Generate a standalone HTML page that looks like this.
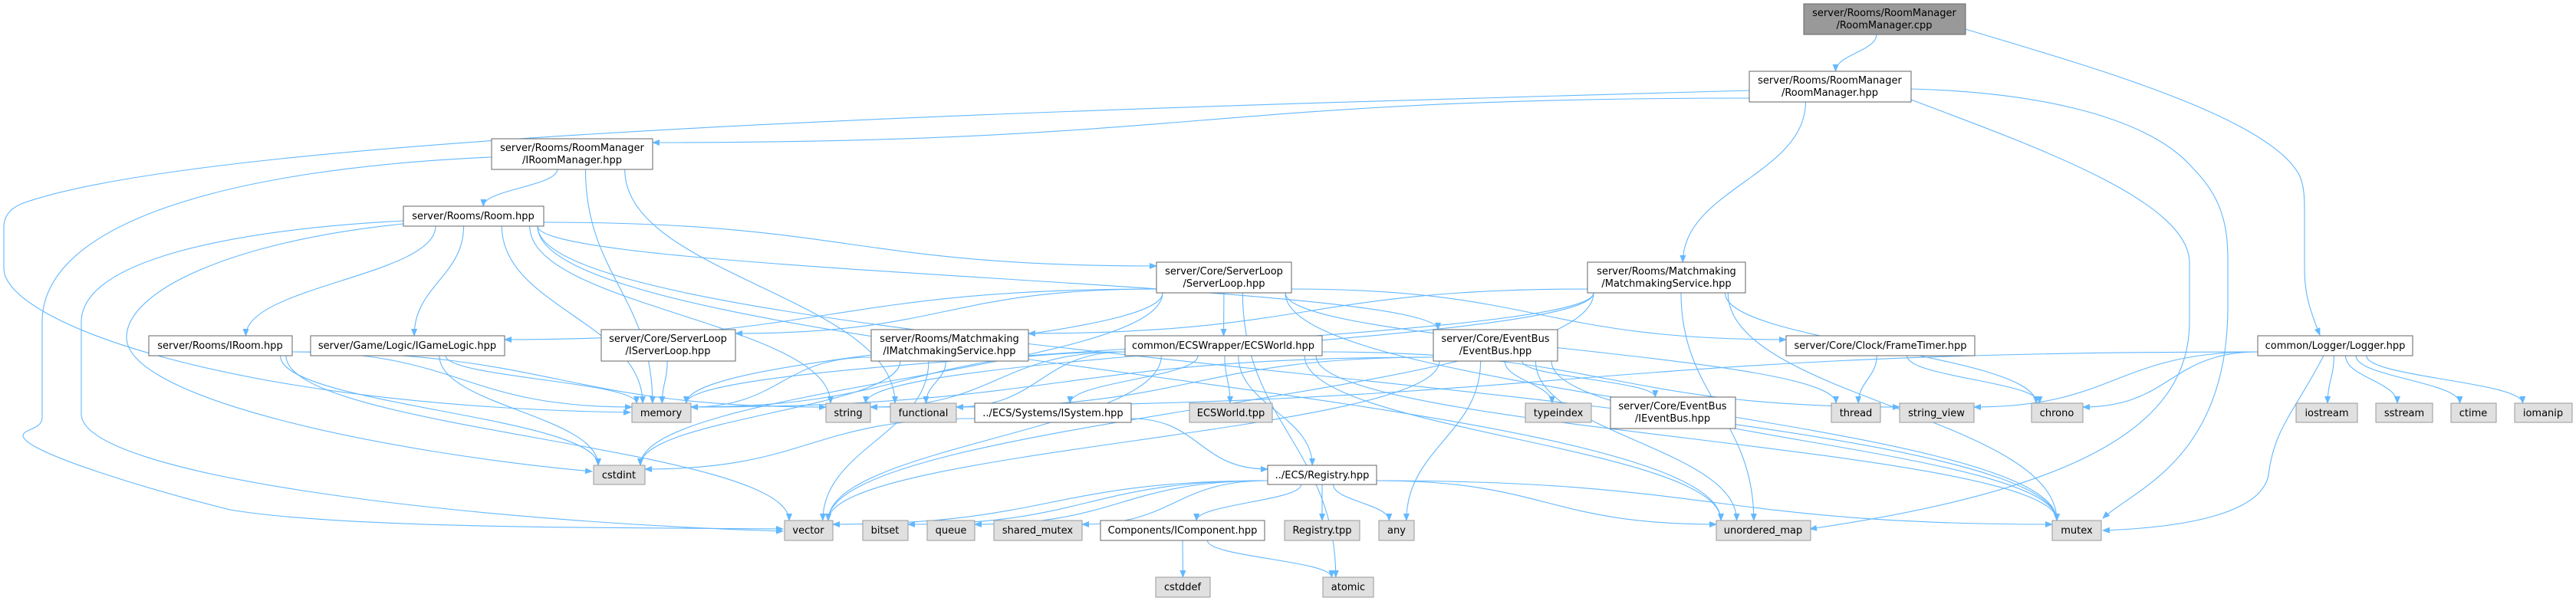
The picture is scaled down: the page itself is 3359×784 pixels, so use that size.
<!DOCTYPE html>
<html><head><meta charset="utf-8">
<style>
html,body{margin:0;padding:0;background:#fff;}
svg{display:block;}
text{font-family:"DejaVu Sans","Liberation Sans",sans-serif;font-size:13px;fill:#000;}
</style></head>
<body>
<svg id="g" width="3359" height="784" viewBox="0 0 3359 784" xmlns="http://www.w3.org/2000/svg">
<defs>
<marker id="ah" markerWidth="10" markerHeight="8" refX="9" refY="4" orient="auto" markerUnits="userSpaceOnUse">
<path d="M0,0 L10,4 L0,8 z" fill="#63b8ff"/>
</marker>
</defs>
<g id="edges" fill="none" stroke="#63b8ff" stroke-width="1.1"></g>
<g id="nodes">
<rect x="2352" y="5" width="211" height="40" fill="#999" stroke="#666"/>
<text x="2457" y="21" text-anchor="middle">server/Rooms/RoomManager</text>
<text x="2457" y="37" text-anchor="middle">/RoomManager.cpp</text>

<rect x="2281" y="93" width="211" height="40" fill="#fff" stroke="#666"/>
<text x="2386" y="109" text-anchor="middle">server/Rooms/RoomManager</text>
<text x="2386" y="125" text-anchor="middle">/RoomManager.hpp</text>

<rect x="641" y="181" width="210" height="40" fill="#fff" stroke="#666"/>
<text x="746" y="197" text-anchor="middle">server/Rooms/RoomManager</text>
<text x="746" y="213" text-anchor="middle">/IRoomManager.hpp</text>

<rect x="526" y="269" width="183" height="26" fill="#fff" stroke="#666"/>
<text x="617" y="286" text-anchor="middle">server/Rooms/Room.hpp</text>

<rect x="1508" y="342" width="176" height="40" fill="#fff" stroke="#666"/>
<text x="1596" y="358" text-anchor="middle">server/Core/ServerLoop</text>
<text x="1596" y="374" text-anchor="middle">/ServerLoop.hpp</text>

<rect x="2070" y="342" width="206" height="40" fill="#fff" stroke="#666"/>
<text x="2173" y="358" text-anchor="middle">server/Rooms/Matchmaking</text>
<text x="2173" y="374" text-anchor="middle">/MatchmakingService.hpp</text>

<rect x="194" y="438" width="187" height="26" fill="#fff" stroke="#666"/>
<text x="287" y="455" text-anchor="middle">server/Rooms/IRoom.hpp</text>

<rect x="405" y="438" width="253" height="26" fill="#fff" stroke="#666"/>
<text x="531" y="455" text-anchor="middle">server/Game/Logic/IGameLogic.hpp</text>

<rect x="784" y="430" width="175" height="41" fill="#fff" stroke="#666"/>
<text x="871" y="446" text-anchor="middle">server/Core/ServerLoop</text>
<text x="871" y="462" text-anchor="middle">/IServerLoop.hpp</text>

<rect x="1136" y="430" width="205" height="41" fill="#fff" stroke="#666"/>
<text x="1238" y="446" text-anchor="middle">server/Rooms/Matchmaking</text>
<text x="1238" y="462" text-anchor="middle">/IMatchmakingService.hpp</text>

<rect x="1467" y="438" width="257" height="26" fill="#fff" stroke="#666"/>
<text x="1595" y="455" text-anchor="middle">common/ECSWrapper/ECSWorld.hpp</text>

<rect x="1869" y="430" width="162" height="41" fill="#fff" stroke="#666"/>
<text x="1950" y="446" text-anchor="middle">server/Core/EventBus</text>
<text x="1950" y="462" text-anchor="middle">/EventBus.hpp</text>

<rect x="2329" y="438" width="246" height="26" fill="#fff" stroke="#666"/>
<text x="2452" y="455" text-anchor="middle">server/Core/Clock/FrameTimer.hpp</text>

<rect x="2944" y="438" width="202" height="26" fill="#fff" stroke="#666"/>
<text x="3045" y="455" text-anchor="middle">common/Logger/Logger.hpp</text>

<rect x="824" y="526" width="77" height="25" fill="#e0e0e0" stroke="#999"/>
<text x="862" y="543" text-anchor="middle">memory</text>
<rect x="1077" y="526" width="58" height="25" fill="#e0e0e0" stroke="#999"/>
<text x="1106" y="543" text-anchor="middle">string</text>
<rect x="1161" y="526" width="86" height="25" fill="#e0e0e0" stroke="#999"/>
<text x="1204" y="543" text-anchor="middle">functional</text>
<rect x="1271" y="526" width="204" height="25" fill="#fff" stroke="#666"/>
<text x="1373" y="543" text-anchor="middle">../ECS/Systems/ISystem.hpp</text>
<rect x="1551" y="526" width="108" height="25" fill="#e0e0e0" stroke="#999"/>
<text x="1605" y="543" text-anchor="middle">ECSWorld.tpp</text>
<rect x="1989" y="526" width="86" height="25" fill="#e0e0e0" stroke="#999"/>
<text x="2032" y="543" text-anchor="middle">typeindex</text>
<rect x="2100" y="518" width="163" height="41" fill="#fff" stroke="#666"/>
<text x="2181" y="534" text-anchor="middle">server/Core/EventBus</text>
<text x="2181" y="550" text-anchor="middle">/IEventBus.hpp</text>
<rect x="2388" y="526" width="64" height="25" fill="#e0e0e0" stroke="#999"/>
<text x="2420" y="543" text-anchor="middle">thread</text>
<rect x="2477" y="526" width="97" height="25" fill="#e0e0e0" stroke="#999"/>
<text x="2525" y="543" text-anchor="middle">string_view</text>
<rect x="2649" y="526" width="67" height="25" fill="#e0e0e0" stroke="#999"/>
<text x="2682" y="543" text-anchor="middle">chrono</text>
<rect x="2994" y="526" width="80" height="25" fill="#e0e0e0" stroke="#999"/>
<text x="3034" y="543" text-anchor="middle">iostream</text>
<rect x="3098" y="526" width="74" height="25" fill="#e0e0e0" stroke="#999"/>
<text x="3135" y="543" text-anchor="middle">sstream</text>
<rect x="3196" y="526" width="59" height="25" fill="#e0e0e0" stroke="#999"/>
<text x="3225" y="543" text-anchor="middle">ctime</text>
<rect x="3279" y="526" width="75" height="25" fill="#e0e0e0" stroke="#999"/>
<text x="3316" y="543" text-anchor="middle">iomanip</text>

<rect x="774" y="607" width="67" height="25" fill="#e0e0e0" stroke="#999"/>
<text x="807" y="624" text-anchor="middle">cstdint</text>
<rect x="1653" y="607" width="142" height="25" fill="#fff" stroke="#666"/>
<text x="1724" y="624" text-anchor="middle">../ECS/Registry.hpp</text>

<rect x="1023" y="679" width="63" height="26" fill="#e0e0e0" stroke="#999"/>
<text x="1054" y="696" text-anchor="middle">vector</text>
<rect x="1125" y="679" width="59" height="26" fill="#e0e0e0" stroke="#999"/>
<text x="1154" y="696" text-anchor="middle">bitset</text>
<rect x="1209" y="679" width="62" height="26" fill="#e0e0e0" stroke="#999"/>
<text x="1240" y="696" text-anchor="middle">queue</text>
<rect x="1296" y="679" width="115" height="26" fill="#e0e0e0" stroke="#999"/>
<text x="1353" y="696" text-anchor="middle">shared_mutex</text>
<rect x="1435" y="679" width="214" height="26" fill="#fff" stroke="#666"/>
<text x="1542" y="696" text-anchor="middle">Components/IComponent.hpp</text>
<rect x="1675" y="679" width="98" height="26" fill="#e0e0e0" stroke="#999"/>
<text x="1724" y="696" text-anchor="middle">Registry.tpp</text>
<rect x="1798" y="679" width="46" height="26" fill="#e0e0e0" stroke="#999"/>
<text x="1821" y="696" text-anchor="middle">any</text>
<rect x="2238" y="679" width="123" height="26" fill="#e0e0e0" stroke="#999"/>
<text x="2299" y="696" text-anchor="middle">unordered_map</text>
<rect x="2676" y="679" width="64" height="26" fill="#e0e0e0" stroke="#999"/>
<text x="2708" y="696" text-anchor="middle">mutex</text>

<rect x="1507" y="753" width="71" height="26" fill="#e0e0e0" stroke="#999"/>
<text x="1542" y="770" text-anchor="middle">cstddef</text>
<rect x="1725" y="753" width="66" height="26" fill="#e0e0e0" stroke="#999"/>
<text x="1758" y="770" text-anchor="middle">atomic</text>
</g>
</svg>
<script>
var N={
cpp:[2352,5,2563,45],rmh:[2281,93,2492,133],irm:[641,181,851,221],room:[526,269,709,295],
sl:[1508,342,1684,382],mm:[2070,342,2276,382],iroom:[194,438,381,464],igl:[405,438,658,464],
isl:[784,430,959,471],imm:[1136,430,1341,471],ecs:[1467,438,1724,464],eb:[1869,430,2031,471],
ft:[2329,438,2575,464],lg:[2944,438,3146,464],memory:[824,526,901,551],string:[1077,526,1135,551],
functional:[1161,526,1247,551],isys:[1271,526,1475,551],ecstpp:[1551,526,1659,551],typeindex:[1989,526,2075,551],
ieb:[2100,518,2263,559],thread:[2388,526,2452,551],sv:[2477,526,2574,551],chrono:[2649,526,2716,551],
iostream:[2994,526,3074,551],sstream:[3098,526,3172,551],ctime:[3196,526,3255,551],iomanip:[3279,526,3354,551],
cstdint:[774,607,841,632],reg:[1653,607,1795,632],vector:[1023,679,1086,705],bitset:[1125,679,1184,705],
queue:[1209,679,1271,705],smutex:[1296,679,1411,705],icomp:[1435,679,1649,705],regtpp:[1675,679,1773,705],
any:[1798,679,1844,705],umap:[2238,679,2361,705],mutex:[2676,679,2740,705],cstddef:[1507,753,1578,779],atomic:[1725,753,1791,779]};
var E=[["cpp","rmh"],
["rmh","irm"],["rmh","mm"],
["irm","room"],["irm","memory"],["irm","functional"],
["room","iroom"],["room","igl"],["room","memory"],["room","sl"],["room","eb"],["room","mutex"],["room","string"],["room","umap"],
["sl","isl"],["sl","igl"],["sl","memory"],["sl","ecs"],["sl","ft"],["sl","thread"],["sl","atomic"],["sl","mutex"],["sl","cstdint"],
["mm","imm"],["mm","memory"],["mm","vector"],["mm","umap"],["mm","mutex"],["mm","chrono"],["mm","string"],
["imm","functional"],["imm","memory"],["imm","cstdint"],["imm","vector"],
["ecs","isys"],["ecs","ecstpp"],["ecs","reg"],["ecs","memory"],["ecs","string"],["ecs","functional"],["ecs","vector"],["ecs","umap"],["ecs","sv"],["ecs","mutex"],
["eb","ieb"],["eb","typeindex"],["eb","functional"],["eb","any"],["eb","vector"],["eb","mutex"],["eb","umap"],["eb","memory"],
["isys","reg"],["isys","cstdint"],
["reg","bitset"],["reg","queue"],["reg","smutex"],["reg","icomp"],["reg","regtpp"],["reg","any"],["reg","vector"],["reg","umap"],["reg","mutex"],
["icomp","cstddef"],["icomp","atomic"],["ft","thread"],["ft","chrono"],
["lg","string"],["lg","sv"],["lg","chrono"],["lg","iostream"],["lg","sstream"],["lg","ctime"],["lg","iomanip"],
["iroom","string"],["iroom","cstdint"],["iroom","vector"],["iroom","memory"],
["igl","memory"],["igl","cstdint"],["isl","memory"]];
var P=[
"M2563,38 C2700,80 2960,150 2999,230 C3005,245 3005,260 3005,280 L3005,350 C3005,380 3010,400 3025,437",
"M2492,116 C2650,120 2800,150 2860,220 C2900,260 2905,300 2905,340 L2905,400 C2905,600 2780,640 2742,676",
"M2492,130 C2650,190 2850,260 2855,340 L2855,420 C2855,560 2700,640 2360,690",
"M3030,464 C2990,540 2965,560 2958,620 C2948,670 2850,688 2742,692",
"M2281,118 C1500,140 300,170 30,265 C5,275 5,290 5,300 L5,350 C5,420 300,530 822,538",
"M641,205 C300,220 55,290 55,420 L55,545 C55,560 30,560 30,568 C30,590 200,640 300,665 C450,690 800,688 1021,690",
"M526,288 C300,300 106,340 106,420 L106,540 C106,620 600,680 1021,693",
"M526,292 C300,315 165,380 165,440 C165,520 500,590 772,615"];
var g=document.getElementById("edges"),s="";
function cl(v,a,b){return Math.max(a,Math.min(b,v));}
E.forEach(function(e){var a=N[e[0]],b=N[e[1]];
var acx=(a[0]+a[2])/2,bcx=(b[0]+b[2])/2,acy=(a[1]+a[3])/2,bcy=(b[1]+b[3])/2;
var dx=bcx-acx,dy=bcy-acy,d;
if(Math.abs(dx)>4*Math.abs(dy)&&Math.abs(dy)<120){
var sx=dx>0?a[2]:a[0],ex=dx>0?b[0]:b[2],sy=cl(bcy,a[1]+5,a[3]-5),ey=cl(acy,b[1]+5,b[3]-5);
var m=(sx+ex)/2;d="M"+sx+","+sy+" C"+m+","+sy+" "+m+","+ey+" "+ex+","+ey;}
else{var sx=cl(acx+dx*0.15,a[0]+8,a[2]-8),sy=a[3],ex=cl(bcx-dx*0.1,b[0]+6,b[2]-6),ey=b[1];
var k=(ey-sy)*0.45;d="M"+sx+","+sy+" C"+sx+","+(sy+k)+" "+ex+","+(ey-k)+" "+ex+","+ey;}
s+='<path d="'+d+'" marker-end="url(#ah)"/>';});
P.forEach(function(d){s+='<path d="'+d+'" marker-end="url(#ah)"/>';});
g.innerHTML=s;
</script>
</body></html>
